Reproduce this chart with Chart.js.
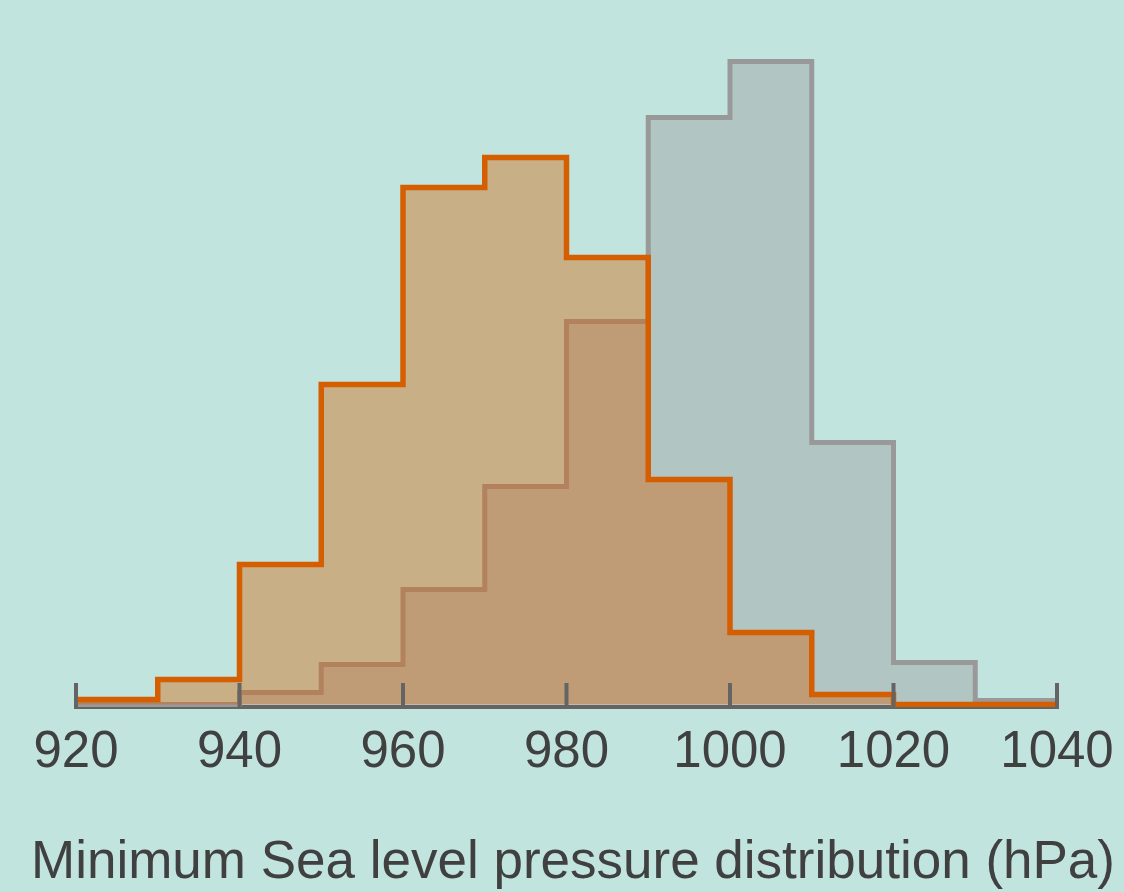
<!DOCTYPE html>
<html>
<head>
<meta charset="utf-8">
<script src="https://cdn.jsdelivr.net/npm/chart.js@4/dist/chart.umd.min.js"></script>
<style>
  html, body { margin: 0; padding: 0; background: #c1e4df; }
  canvas { display: block; }
</style>
</head>
<body>
<canvas id="chart" width="1124" height="892"></canvas>
<script>
// ---- data ----
const binEdges = [920, 930, 940, 950, 960, 970, 980, 990, 1000, 1010, 1020, 1030, 1040];
const orangeCounts = [5, 25, 140, 320, 517, 547, 447, 225, 72, 10, 0, 0];
const greyCounts = [0, 0, 12, 40, 115, 218, 383, 587, 643, 262, 42, 4];
const tickValues = [920, 940, 960, 980, 1000, 1020, 1040];
const xTitle = 'Minimum Sea level pressure distribution (hPa)';

// step points: each bin's left edge carries its count, plus a closing point at the last edge
function stepPoints(counts) {
  const pts = counts.map((c, i) => ({ x: binEdges[i], y: c }));
  pts.push({ x: binEdges[binEdges.length - 1], y: counts[counts.length - 1] });
  return pts;
}

const axisColor = '#646464';
const textColor = '#404040';
const fontFamily = '"Liberation Sans", Arial, sans-serif';

const upTicks = {
  id: 'upTicks',
  afterDatasetsDraw(chart) {
    const sx = chart.scales.x;
    const ctx = chart.ctx;
    const yb = chart.chartArea.bottom;
    ctx.save();
    ctx.strokeStyle = axisColor;
    ctx.lineWidth = 4;
    tickValues.forEach(v => {
      const px = sx.getPixelForValue(v);
      ctx.beginPath();
      ctx.moveTo(px, yb + 2);
      ctx.lineTo(px, yb - 24);
      ctx.stroke();
    });
    ctx.restore();
  }
};

new Chart(document.getElementById('chart'), {
  type: 'line',
  data: {
    datasets: [
      {
        label: 'orange',
        data: stepPoints(orangeCounts),
        stepped: 'before',
        borderColor: '#d55e00',
        backgroundColor: 'rgba(213,94,0,0.4)',
        borderWidth: 5.5,
        borderJoinStyle: 'miter',
        borderCapStyle: 'butt',
        pointRadius: 0,
        fill: 'origin',
        order: 0
      },
      {
        label: 'grey',
        data: stepPoints(greyCounts),
        stepped: 'before',
        borderColor: '#999999',
        backgroundColor: 'rgba(153,153,153,0.4)',
        borderWidth: 5,
        borderJoinStyle: 'miter',
        borderCapStyle: 'butt',
        pointRadius: 0,
        fill: 'origin',
        order: 1
      }
    ]
  },
  options: {
    responsive: false,
    animation: false,
    events: [],
    layout: { padding: { left: 22, right: 0, top: 20, bottom: 0 } },
    plugins: {
      legend: { display: false },
      tooltip: { enabled: false },
      title: {
        display: true,
        position: 'bottom',
        text: xTitle,
        color: textColor,
        font: { family: fontFamily, size: 53, weight: 'normal', lineHeight: 1 },
        padding: { top: 0, bottom: 1.7 }
      }
    },
    scales: {
      x: {
        type: 'linear',
        min: 920,
        max: 1040,
        afterFit: s => { s.height = 130.3; s.paddingLeft = 76; s.paddingRight = 67; },
        afterBuildTicks: s => { s.ticks = tickValues.map(v => ({ value: v })); },
        ticks: {
          color: textColor,
          padding: 15,
          maxRotation: 0,
          autoSkip: false,
          font: { family: fontFamily, size: 51 },
          callback: v => String(v)
        },
        grid: { display: false, drawTicks: false },
        border: { display: true, color: axisColor, width: 4 }
      },
      y: {
        display: false,
        min: -2.5,
        max: 684.5
      }
    }
  },
  plugins: [upTicks]
});
</script>
</body>
</html>
